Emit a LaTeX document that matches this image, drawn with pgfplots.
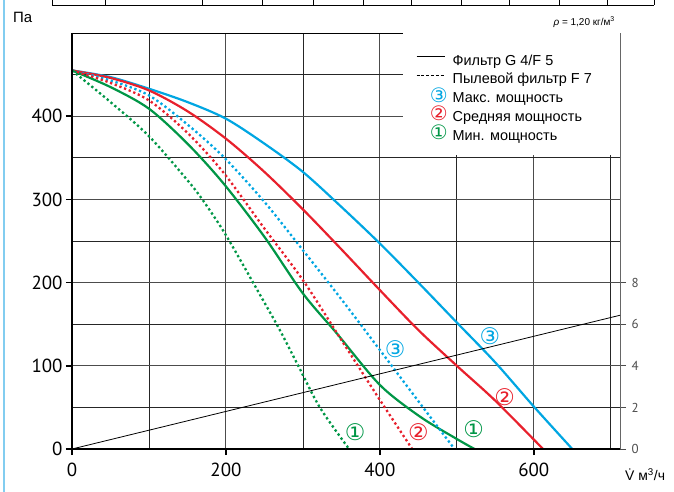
\documentclass[border=0pt]{standalone}
\usepackage{pgfplots}
\pgfplotsset{compat=1.18}
\usepackage{fontspec}
\setmainfont{Liberation Sans}
\newfontfamily\tickfont{PT Sans}
\newfontfamily\circfont{DejaVu Sans}
\definecolor{cblue}{RGB}{0,166,226}
\definecolor{cred}{RGB}{232,32,44}
\definecolor{cgreen}{RGB}{0,150,70}
\definecolor{frameblue}{RGB}{130,205,240}
\tikzset{circ/.style={inner sep=0pt, text height=16bp, text depth=0bp, font=\circfont\fontsize{23}{23}\selectfont},
  lcirc/.style={inner sep=0pt, text height=14bp, text depth=0bp, font=\circfont\fontsize{20}{20}\selectfont}}
\begin{document}
\begin{tikzpicture}
\useasboundingbox (-72bp,-43bp) rectangle (602bp,449bp);
\draw[frameblue, line width=1.5bp] (-68bp,-43bp) -- (-68bp,449bp);
\draw[black, line width=0.8bp] (-20bp,444bp) -- (582bp,444bp);
\foreach \xx in {-20,33,130,190,241,291,339,389,437,487,535,582}{
  \draw[black, line width=0.8bp] (\xx bp,444bp) -- (\xx bp,449bp);}
\node[anchor=west, inner sep=0pt, font=\fontsize{15}{15}\selectfont] at (-59bp,432bp) {Па};
\node[anchor=east, inner sep=0pt, font=\fontsize{10}{10}\selectfont] at (543bp,427bp) {\textit{ρ} = 1,20 кг/м\textsuperscript{3}};
\node[anchor=west, inner sep=0pt, font=\fontsize{14}{14}\selectfont] at (553bp,-26bp) {\.{V} м\textsuperscript{3}/ч};

\begin{axis}[
  at={(0,0)}, anchor=south west, scale only axis,
  width=548bp, height=416bp,
  xmin=0, xmax=712, ymin=0, ymax=500,
  xtick={0,200,400,600}, ytick={0,100,200,300,400},
  minor xtick={100,300,500,700}, minor ytick={50,150,250,350,450},
  grid=both,
  major grid style={black!70, line width=0.9bp},
  minor grid style={black!85, line width=0.8bp},
  tick pos=left, tick align=outside,
  major tick length=6bp, minor tick length=0pt,
  every tick/.style={black, line width=1.6bp},
  ticklabel style={font=\tickfont\fontsize{19}{19}\selectfont},
  xticklabel style={yshift=-4.5bp},
  /pgf/number format/assume math mode=true,
  axis line style={black, line width=0.8bp},
  legend cell align=left,
  legend style={at={(1,1)}, anchor=north east, draw=none, fill=white,
    font=\fontsize{14.5}{14.5}\selectfont, inner xsep=13bp, inner ysep=15bp,
    row sep=1.75bp, nodes={inner sep=0pt, text height=17bp, text depth=0pt},
    /tikz/every odd column/.append style={column sep=5bp}},
  after end axis/.append code={
    \draw[black, line width=1.8bp] (rel axis cs:0,1) -- (rel axis cs:0,0) -- (rel axis cs:1,0);
  },
]
\addlegendimage{legend image code/.code={\draw[black,line width=0.9bp] (0bp,0bp) -- (28bp,0bp);}}
\addlegendentry{Фильтр G 4/F 5}
\addlegendimage{legend image code/.code={\draw[black,line width=0.9bp,dash pattern=on 3bp off 1.8bp] (0bp,0bp) -- (28bp,0bp);}}
\addlegendentry{Пылевой фильтр F 7\rule{15bp}{0pt}}
\addlegendimage{legend image code/.code={\path[draw=none] (0bp,0bp) -- (28bp,0bp); \node[lcirc, text=cblue] at (13bp,-1bp) {③};}}
\addlegendentry{Макс. мощность}
\addlegendimage{legend image code/.code={\path[draw=none] (0bp,0bp) -- (28bp,0bp); \node[lcirc, text=cred] at (13bp,-1bp) {②};}}
\addlegendentry{Средняя мощность}
\addlegendimage{legend image code/.code={\path[draw=none] (0bp,0bp) -- (28bp,0bp); \node[lcirc, text=cgreen] at (13bp,-1bp) {①};}}
\addlegendentry{Мин. мощность}

% Filter G4/F5 (solid)
\addplot[cblue, line width=2.2bp, smooth, forget plot] coordinates {
 (0,455) (50,447) (100,433) (150,417) (200,397) (250,367) (300,333) (350,291)
 (400,247) (450,200) (500,152) (550,104) (600,51) (650,0)};
\addplot[cred, line width=2.2bp, smooth, forget plot] coordinates {
 (0,455) (50,446) (100,431) (150,406) (200,373) (250,333) (300,288) (350,240)
 (400,191) (450,143) (500,100) (550,58) (612,0)};
\addplot[cgreen, line width=2.2bp, smooth, forget plot] coordinates {
 (0,455) (50,435) (100,409) (150,367) (197,319) (250,255) (300,187) (344,139)
 (400,77) (452,39) (500,12) (523,0)};
% Dust filter F7 (dotted)
\addplot[cblue, line width=2.3bp, dash pattern=on 2.3bp off 2.7bp, smooth, forget plot] coordinates {
 (0,455) (50,443) (100,425) (150,390) (197,351) (250,297) (300,239) (350,180)
 (400,119) (452,55) (497,0)};
\addplot[cred, line width=2.3bp, dash pattern=on 2.3bp off 2.7bp, smooth, forget plot] coordinates {
 (0,455) (50,440) (100,419) (150,380) (197,332) (250,265) (300,203) (350,131)
 (400,59) (442,0)};
\addplot[cgreen, line width=2.3bp, dash pattern=on 2.3bp off 2.7bp, smooth, forget plot] coordinates {
 (0,455) (50,417) (100,376) (150,323) (170,299) (200,257) (250,176) (270,143)
 (294,100) (322,50) (360,0)};

\node[circ, text=cblue] at (axis cs:543,135) {③};
\node[circ, text=cblue] at (axis cs:420,120) {③};
\node[circ, text=cred] at (axis cs:562,62) {②};
\node[circ, text=cred] at (axis cs:450,20) {②};
\node[circ, text=cgreen] at (axis cs:522,24) {①};
\node[circ, text=cgreen] at (axis cs:368,20) {①};
\end{axis}

\begin{axis}[
  at={(0,0)}, anchor=south west, scale only axis,
  width=548bp, height=416bp,
  xmin=0, xmax=712, ymin=0, ymax=20,
  axis x line=none, axis y line*=right,
  ytick={0,2,4,6,8}, tick align=outside, major tick length=6bp,
  every tick/.style={black!70, line width=0.7bp},
  yticklabel style={font=\tickfont\fontsize{13}{13}\selectfont, text=black!70, xshift=2bp},
  /pgf/number format/assume math mode=true,
  axis line style={black!60, line width=0.9bp},
]
\addplot[black, line width=0.8bp] coordinates {(0,0) (712,6.43)};
\end{axis}
\end{tikzpicture}
\end{document}
